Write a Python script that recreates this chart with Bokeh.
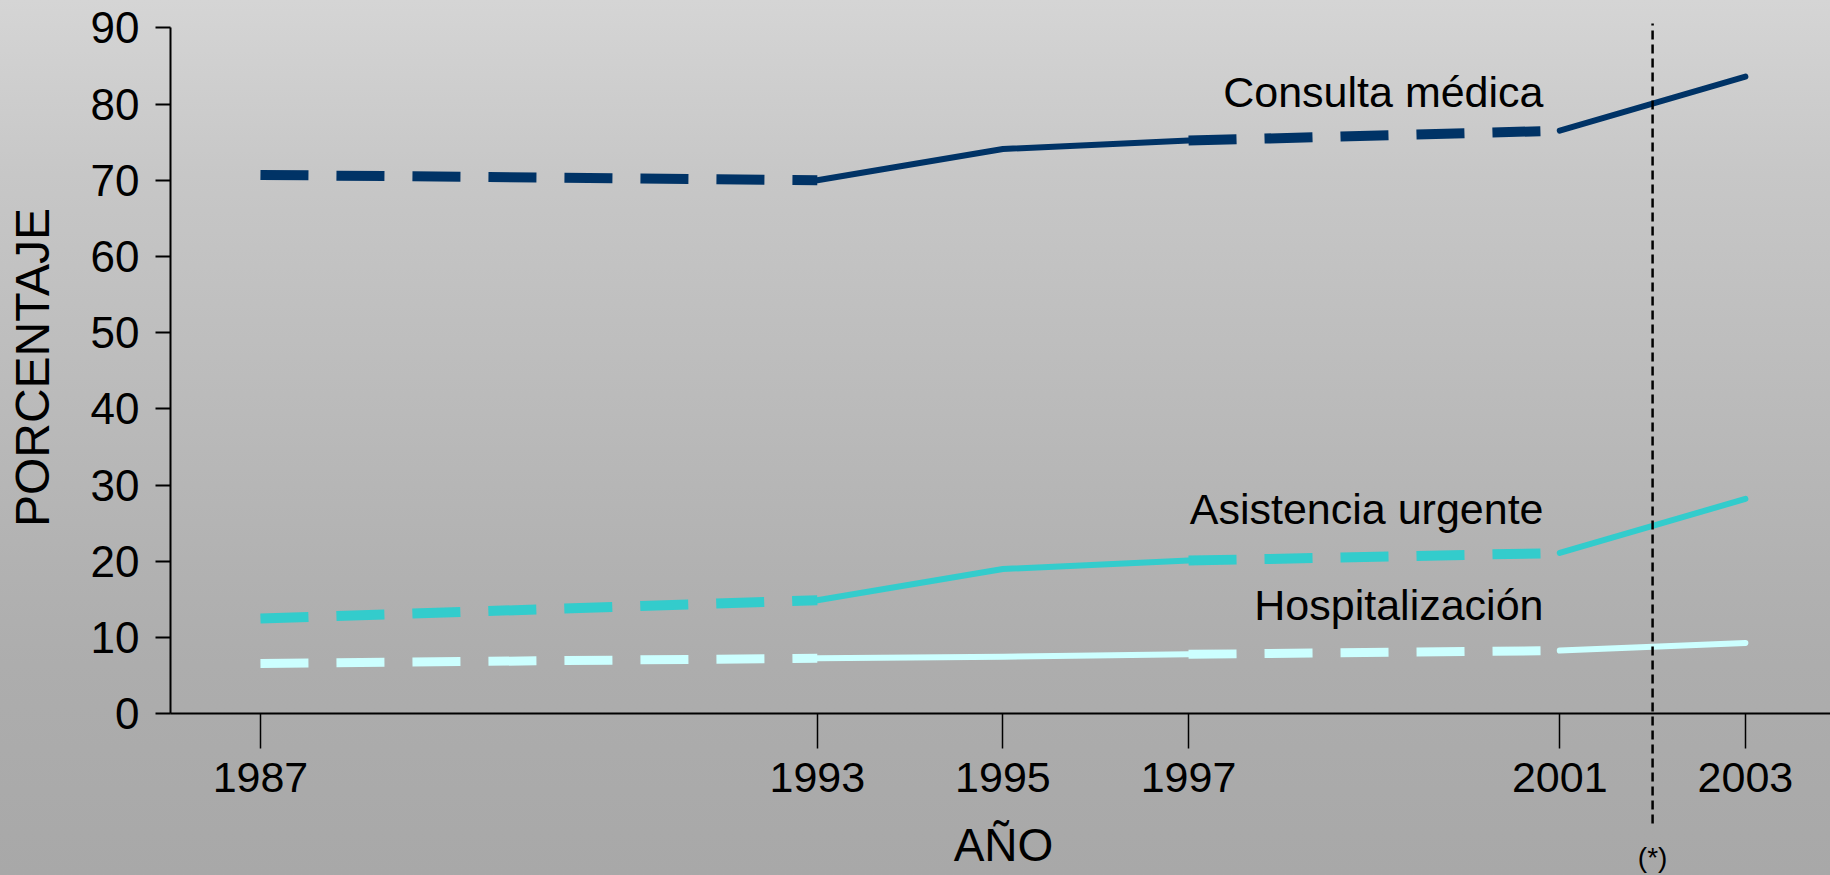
import math
from bokeh.plotting import figure
from bokeh.models import Range1d, LinearAxis, FixedTicker, GlobalInlineStyleSheet
from bokeh.embed import file_html
from bokeh.resources import INLINE
from bokeh.core.properties import value

# ---------------- data ----------------
anios = [1987, 1993, 1995, 1997, 2001, 2003]
consulta = [70.7, 70.0, 74.1, 75.2, 76.5, 83.6]
urgente = [12.5, 14.9, 19.0, 20.1, 21.1, 28.2]
hospital = [6.6, 7.3, 7.5, 7.8, 8.3, 9.3]
series_nombres = ["Consulta médica", "Asistencia urgente", "Hospitalización"]
tramos_discontinuos = [(0, 1), (3, 4)]   # index ranges drawn dashed
tramos_continuos = [(1, 3), (4, 5)]      # index ranges drawn solid
y_ticks = [0, 10, 20, 30, 40, 50, 60, 70, 80, 90]
anio_corte = 2002

# ---------------- geometry / style ----------------
W, H = 1830, 875
X0, X1 = 1984.199, 2003.917
Y0, Y1 = -21.21, 93.58
FONT = "Liberation Sans"
colores = ["#003366", "#33CCCC", "#CCFFFF"]
dash_w = [10, 10, 9]

def px_to_x(px):
    return X0 + px * (X1 - X0) / W

def py_to_y(py):
    return Y1 - py * (Y1 - Y0) / H

p = figure(width=W, height=H, x_range=Range1d(X0, X1), y_range=Range1d(Y0, Y1),
           output_backend="svg", toolbar_location=None, min_border=0, title=None,
           x_axis_type=None, y_axis_type=None,
           stylesheets=[GlobalInlineStyleSheet(css="html,body{margin:0;padding:0;overflow:hidden;background:#a8a8a8;}")],
           styles={"background": "linear-gradient(to bottom, #d5d5d5 0%, #c7c7c7 20%, #b1b1b1 66%, #adadad 76%, #a8a8a8 100%)"})
p.background_fill_alpha = 0
p.border_fill_alpha = 0
p.outline_line_color = None

def style_axis(ax, tick_out, standoff):
    ax.axis_line_color = "black"
    ax.axis_line_width = 2
    ax.major_tick_line_color = "black"
    ax.major_tick_line_width = 2
    ax.major_tick_out = tick_out
    ax.major_tick_in = 0
    ax.minor_tick_out = 0
    ax.minor_tick_in = 0
    ax.major_label_text_font = FONT
    ax.major_label_text_font_size = "43px"
    ax.major_label_text_color = "black"
    ax.major_label_standoff = standoff

yaxis = LinearAxis(fixed_location=px_to_x(170), bounds=(0, 90), ticker=FixedTicker(ticks=y_ticks))
style_axis(yaxis, 15, 16)
yaxis.major_label_text_font_size = "44px"
p.add_layout(yaxis, "left")

xaxis = LinearAxis(fixed_location=0, bounds=(px_to_x(170), X1), ticker=FixedTicker(ticks=anios))
style_axis(xaxis, 35, 14)
xaxis.major_tick_line_width = 1.5
p.add_layout(xaxis, "below")

# ---------------- lines ----------------
for vals, col, dw in zip([consulta, urgente, hospital], colores, dash_w):
    for a, b in tramos_discontinuos:
        p.line(anios[a:b + 1], vals[a:b + 1], line_color=col, line_width=dw,
               line_dash="48 28", line_cap="butt")
    for a, b in tramos_continuos:
        p.line(anios[a:b + 1], vals[a:b + 1], line_color=col, line_width=6,
               line_cap="round", line_join="round")

# vertical methodology-change marker
p.segment(x0=[anio_corte], y0=[py_to_y(823)], x1=[anio_corte], y1=[py_to_y(23)],
          line_color="black", line_width=2.5, line_dash="9 5")

# ---------------- texts ----------------
p.text(x=[px_to_x(1543)] * 3, y=[py_to_y(91), py_to_y(508), py_to_y(604)],
       text=series_nombres, text_align="right", text_baseline="alphabetic",
       text_font=value(FONT), text_font_size="43px", text_color="black")

p.text(x=[anio_corte], y=[py_to_y(857)], text=["(*)"], text_align="center",
       text_baseline="alphabetic", text_font=value(FONT), text_font_size="28px",
       text_color="black")

p.text(x=[px_to_x(1003)], y=[py_to_y(844)], text=["AÑO"], text_align="center",
       text_baseline="alphabetic", text_font=value(FONT), text_font_size="46px",
       text_color="black")

p.text(x=[px_to_x(32)], y=[py_to_y(367)], text=["PORCENTAJE"], angle=math.pi / 2,
       text_align="center", text_baseline="alphabetic", text_font=value(FONT),
       text_font_size="48px", text_color="black")

open("out.html", "w").write(file_html(p, INLINE))
